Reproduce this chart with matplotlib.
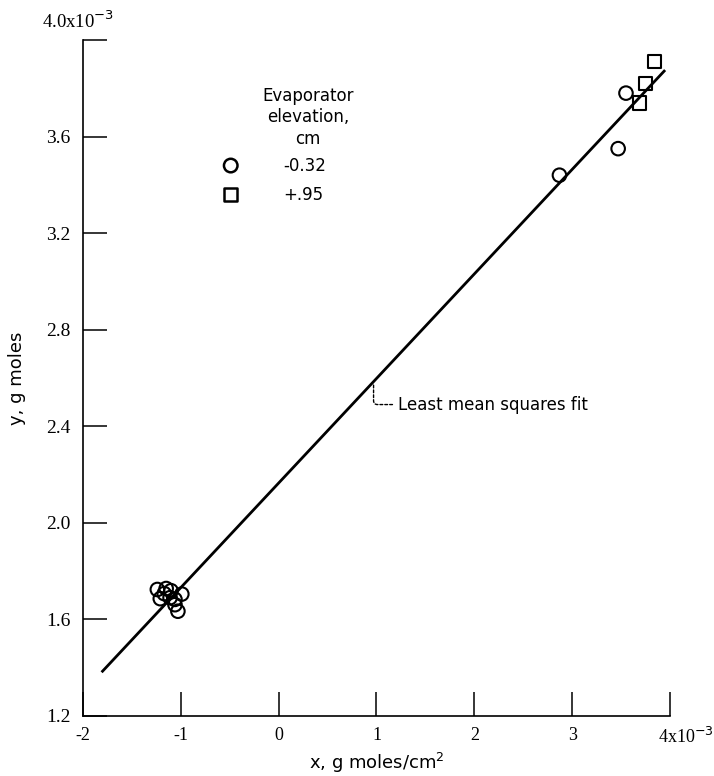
import matplotlib
matplotlib.use("Agg")
import matplotlib.pyplot as plt
import numpy as np

# Data (units of 1e-3)
circle_x = [-1.24, -1.21, -1.17, -1.15, -1.11, -1.10, -1.06, -1.06, -1.03, -0.99, 2.87, 3.47, 3.55]
circle_y = [1.724, 1.686, 1.707, 1.728, 1.690, 1.719, 1.683, 1.661, 1.634, 1.705, 3.44, 3.55, 3.78]
square_x = [3.69, 3.75, 3.84]
square_y = [3.74, 3.82, 3.91]
fit_intercept = 2.165
fit_slope = 0.433
fit_x_range = [-1.81, 3.95]
xticks = [-2, -1, 0, 1, 2, 3, 4]
xtick_labels = ["-2", "-1", "0", "1", "2", "3", ""]
yticks = [1.2, 1.6, 2.0, 2.4, 2.8, 3.2, 3.6, 4.0]
ytick_labels = ["1.2", "1.6", "2.0", "2.4", "2.8", "3.2", "3.6", ""]
legend_labels = ["-0.32", "+.95"]

SANS = ['Liberation Sans Narrow', 'DejaVu Sans']
SERIF = ['Liberation Serif', 'DejaVu Serif']

fig = plt.figure(figsize=(7.14, 7.76), dpi=100)
ax = fig.add_axes([83/714, 1 - 716/776, (670-83)/714, (716-40)/776])

fx = np.array(fit_x_range)
ax.plot(fx, fit_intercept + fit_slope * fx, color='black', lw=2.0, solid_capstyle='butt', zorder=2)
ax.scatter(circle_x, circle_y, s=95, marker='o', facecolors='none', edgecolors='black', linewidths=1.5, zorder=3)
ax.scatter(square_x, square_y, s=95, marker='s', facecolors='none', edgecolors='black', linewidths=1.5, zorder=3)

ax.set_xlim(-2, 4)
ax.set_ylim(1.2, 4.0)
for s in ['top', 'right']:
    ax.spines[s].set_visible(False)
for s in ['left', 'bottom']:
    ax.spines[s].set_linewidth(1.2)
ax.set_xticks(xticks)
ax.set_xticklabels(xtick_labels, family=SERIF, fontsize=13)
ax.set_yticks(yticks)
ax.set_yticklabels(ytick_labels, family=SERIF, fontsize=14)
ax.tick_params(direction='in', length=17, width=1.1)
ax.tick_params(axis='y', pad=9)
ax.tick_params(axis='x', pad=8)

ax.text(3.88, 1.2 - 0.045, "4x10$^{-3}$", ha='left', va='top',
        family=SERIF, fontsize=13, clip_on=False)
ax.text(-2.05, 4.0 + 0.035, "4.0x10$^{-3}$", ha='center', va='bottom',
        family=SERIF, fontsize=13.5, clip_on=False)

ax.set_xlabel("x, g moles/cm$^2$", family=SANS, fontsize=13)
ax.xaxis.set_label_coords(0.5, -0.052)
ax.set_ylabel("y, g moles", family=SANS, fontsize=13)
ax.yaxis.set_label_coords(-0.097, 0.5)

# Legend (hand-built)
hx = 0.30
ax.text(hx, 3.77, "Evaporator", ha='center', va='center', family=SANS, fontsize=12)
ax.text(hx, 3.68, "elevation,", ha='center', va='center', family=SANS, fontsize=12)
ax.text(hx, 3.59, "cm", ha='center', va='center', family=SANS, fontsize=12)
ax.scatter([-0.49], [3.48], s=95, marker='o', facecolors='none', edgecolors='black', linewidths=1.8)
ax.scatter([-0.49], [3.36], s=95, marker='s', facecolors='none', edgecolors='black', linewidths=1.8)
ax.text(0.05, 3.48, legend_labels[0], ha='left', va='center', family=SANS, fontsize=12)
ax.text(0.05, 3.36, legend_labels[1], ha='left', va='center', family=SANS, fontsize=12)

# Annotation
xa = 0.97
ax.annotate("Least mean squares fit", xy=(xa, fit_intercept + fit_slope * xa), xytext=(1.22, 2.49),
            ha='left', va='center', family=SANS, fontsize=12,
            arrowprops=dict(arrowstyle='-', color='black', lw=1, linestyle=(0, (2, 1.5)),
                            connectionstyle='angle,angleA=0,angleB=90,rad=4', shrinkA=2, shrinkB=2))

fig.savefig("out.png", dpi=100)
